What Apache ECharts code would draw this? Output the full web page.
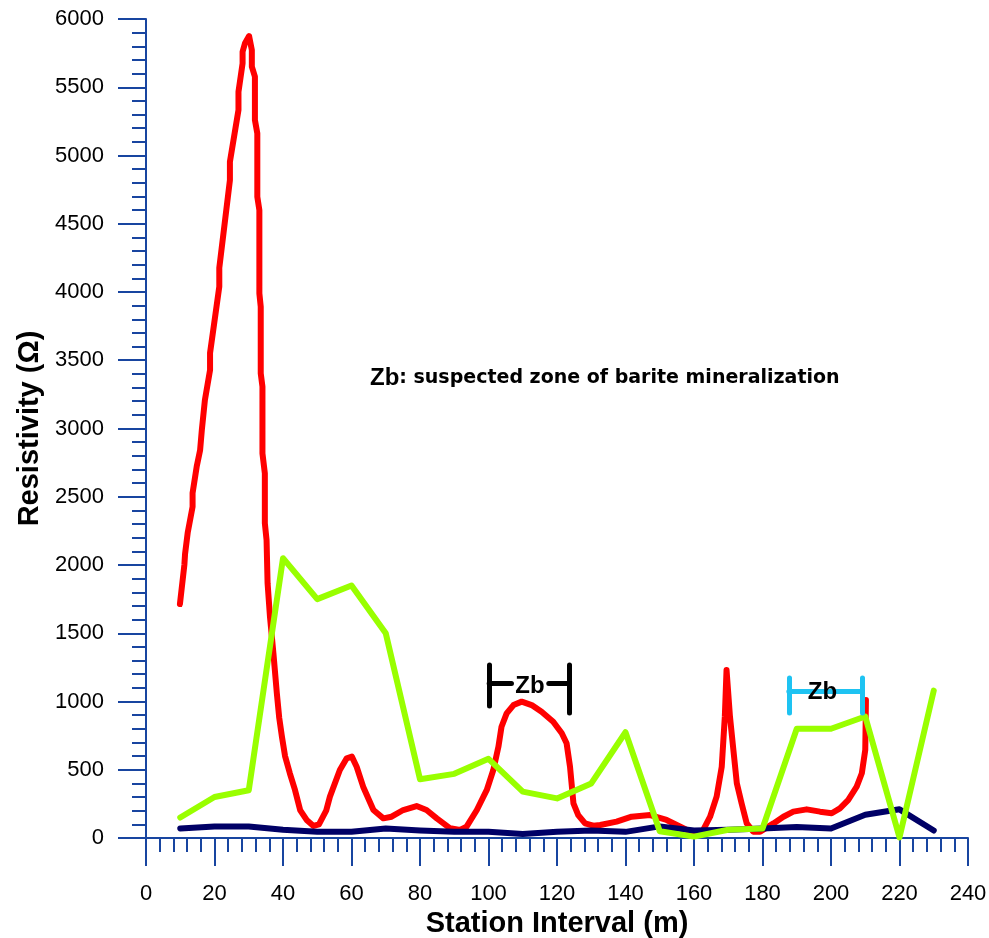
<!DOCTYPE html>
<html>
<head>
<meta charset="utf-8">
<script src="https://cdn.jsdelivr.net/npm/echarts@6/dist/echarts.min.js"></script>
<style>
  html, body { margin: 0; padding: 0; background: #fff; }
  #chart { width: 989px; height: 938px; }
</style>
</head>
<body>
<div id="chart"></div>
<script>
// stations (m) for the green and navy profiles
var stations = [10, 20, 30, 40, 50, 60, 70, 80, 90, 100, 110, 120, 130, 140, 150, 160, 170, 180, 190, 200, 210, 220, 230]
var greenValues = [150, 300, 350, 2050, 1750, 1850, 1500, 430, 470, 580, 340, 290, 400, 775, 50, 10, 60, 70, 800, 800, 890, 5, 1080]
var navyValues = [70, 85, 85, 60, 45, 45, 70, 55, 45, 45, 30, 45, 55, 45, 85, 55, 60, 70, 80, 70, 170, 210, 55]

// red profile: [station, resistivity]
var redPoints = [
  [9.9, 1714], [11.2, 2000], [11.4, 2080], [12.2, 2240], [13.6, 2427], [13.6, 2527], [14.8, 2720],
  [15.8, 2842], [16.3, 2989], [17.2, 3209], [18.7, 3428], [18.7, 3553], [21.4, 4039], [21.4, 4176],
  [24.5, 4820], [24.5, 4955], [27, 5333], [27, 5467], [28.2, 5675], [28.2, 5760], [28.9, 5822],
  [30.1, 5875], [30.9, 5773], [30.9, 5651], [31.8, 5577], [31.8, 5260], [32.5, 5162], [32.5, 4698],
  [33.1, 4600], [33.1, 3990], [33.5, 3892], [33.5, 3404], [34, 3306], [34, 2818], [34.7, 2672],
  [34.7, 2306], [35.2, 2183], [35.5, 1866], [36.2, 1621], [37.2, 1353], [38.2, 1060], [38.9, 880],
  [39.7, 740], [40.6, 600], [42, 474], [43.5, 352], [45, 205], [46.9, 132], [48.9, 88], [50.5, 100],
  [52.6, 200], [53.7, 303], [56.6, 498], [58.6, 584], [60.1, 596], [61.5, 522], [63.4, 376],
  [66.4, 205], [69.3, 144], [71.7, 156], [75.1, 205], [79, 234], [81.9, 205], [84.9, 144], [88.8, 71],
  [91.7, 59], [93.6, 83], [96.6, 205], [99.5, 352], [101.4, 498], [102.9, 669], [103.8, 815],
  [105.3, 913], [107.3, 974], [109.7, 999], [112.6, 974], [115.5, 925], [118.9, 852], [121.4, 767],
  [122.8, 694], [123.8, 522], [124.8, 254], [126.2, 168], [128.2, 107], [130.6, 90], [132.6, 95],
  [137.4, 120], [141.8, 156], [147.2, 168], [152, 132], [156.9, 71], [160.8, 22], [162.7, 59],
  [164.7, 156], [166.6, 303], [168.1, 522], [169, 889], [169.5, 1231], [170, 1243], [170.5, 889],
  [171.5, 645], [172.5, 401], [173.9, 254], [175.4, 107], [177.3, 46], [179.3, 46], [183.2, 107],
  [186.1, 156], [189, 193], [192.9, 210], [196.8, 193], [200.2, 181], [202.6, 217], [205, 278],
  [207.5, 376], [209, 474], [210, 645], [210.1, 815], [210.2, 1011]
]

// suspected barite zones (station range, bracket height in ohm)
var zoneStart = [100.2, 187.7]
var zoneEnd = [123.6, 209]
var zoneTop = [1267, 1172]
var zoneBottomLeft = [967, 916]
var zoneBottomRight = [916, 916]
var zoneBar = [1136, 1072]
var zoneLabelAt = [[112.1, 1110], [197.5, 1066]]

var axisColor = '#1845a0'
var fontName = 'Liberation Sans, Arial, sans-serif'

var chart = echarts.init(document.getElementById('chart'))

function seg (x1, y1, x2, y2) {
  return [{ coord: [x1, y1] }, { coord: [x2, y2] }]
}

// black bracket: bar broken round the label; cyan bracket: bar runs through
var blackLines = [
  seg(zoneStart[0], zoneTop[0], zoneStart[0], zoneBottomLeft[0]),
  seg(zoneEnd[0], zoneTop[0], zoneEnd[0], zoneBottomRight[0]),
  seg(zoneStart[0], zoneBar[0], 106.7, zoneBar[0]),
  seg(117.6, zoneBar[0], zoneEnd[0], zoneBar[0])
]
var cyanLines = [
  seg(zoneStart[1], zoneTop[1], zoneStart[1], zoneBottomLeft[1]),
  seg(zoneEnd[1], zoneTop[1], zoneEnd[1], zoneBottomRight[1]),
  seg(zoneStart[1], zoneBar[1], zoneEnd[1], zoneBar[1])
]

function bracketSeries (lines, color, labelAt) {
  return {
    type: 'line',
    data: [],
    silent: true,
    markLine: {
      silent: true,
      symbol: 'none',
      label: { show: false },
      lineStyle: { color: color, width: 5, type: 'solid', cap: 'round' },
      data: lines
    },
    markPoint: {
      silent: true,
      symbol: 'circle',
      symbolSize: 0,
      label: {
        show: true,
        position: 'inside',
        formatter: 'Zb',
        color: '#000',
        fontSize: 24,
        fontWeight: 'bold',
        fontFamily: fontName
      },
      data: [{ coord: labelAt }]
    }
  }
}

var option = {
  animation: false,
  backgroundColor: '#fff',
  grid: { left: 146, right: 21, top: 19, bottom: 100, outerBoundsMode: 'none', containLabel: false },
  xAxis: {
    type: 'value',
    min: 0,
    max: 240,
    interval: 20,
    name: 'Station Interval (m)',
    nameLocation: 'middle',
    nameGap: 70,
    nameTextStyle: { fontSize: 29, fontWeight: 'bold', color: '#000', fontFamily: fontName },
    axisLine: { lineStyle: { color: axisColor, width: 2 } },
    axisTick: { length: 28, lineStyle: { color: axisColor, width: 2 } },
    minorTick: { show: true, splitNumber: 5, length: 14, lineStyle: { color: axisColor, width: 2 } },
    axisLabel: { margin: 45, fontSize: 22, color: '#000', fontFamily: fontName },
    splitLine: { show: false }
  },
  yAxis: {
    type: 'value',
    min: 0,
    max: 6000,
    interval: 500,
    name: 'Resistivity (\u03a9)',
    nameLocation: 'middle',
    nameGap: 99,
    nameTextStyle: { fontSize: 29, fontWeight: 'bold', color: '#000', fontFamily: fontName },
    axisLine: { show: true, lineStyle: { color: axisColor, width: 2 } },
    axisTick: { show: true, length: 28, lineStyle: { color: axisColor, width: 2 } },
    minorTick: { show: true, splitNumber: 5, length: 14, lineStyle: { color: axisColor, width: 2 } },
    axisLabel: {
      margin: 42,
      fontSize: 22,
      color: '#000',
      fontFamily: fontName,
      formatter: function (v) { return String(v) }
    },
    splitLine: { show: false }
  },
  graphic: [{
    type: 'text',
    left: 370,
    top: 366,
    style: {
      text: '{a|Zb}{b|: suspected zone of barite mineralization}',
      rich: {
        a: { fontSize: 24, fontWeight: 'bold', fill: '#000', fontFamily: fontName },
        b: { fontSize: 19, fontWeight: 'bold', fill: '#000', fontFamily: 'DejaVu Sans, sans-serif' }
      }
    }
  }],
  series: [
    {
      type: 'line',
      data: redPoints,
      showSymbol: false,
      lineStyle: { color: '#ff0000', width: 6, cap: 'round', join: 'round' },
      z: 2
    },
    {
      type: 'line',
      data: stations.map(function (s, i) { return [s, navyValues[i]] }),
      showSymbol: false,
      lineStyle: { color: '#000066', width: 6, cap: 'round', join: 'round' },
      z: 3
    },
    {
      type: 'line',
      data: stations.map(function (s, i) { return [s, greenValues[i]] }),
      showSymbol: false,
      lineStyle: { color: '#99ff00', width: 6, cap: 'round', join: 'round' },
      z: 4
    },
    bracketSeries(blackLines, '#000', zoneLabelAt[0]),
    bracketSeries(cyanLines, '#1ec3f2', zoneLabelAt[1])
  ]
}

chart.setOption(option)
</script>
</body>
</html>
